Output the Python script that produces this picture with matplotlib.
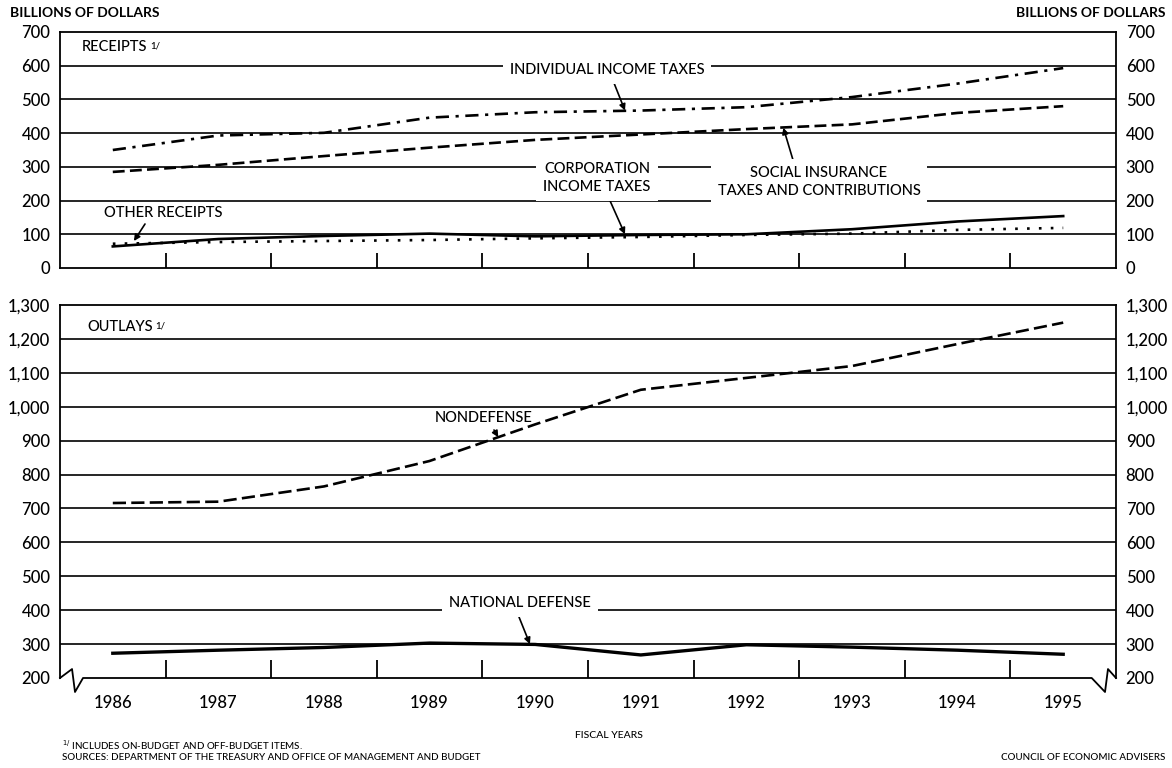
import matplotlib
matplotlib.use("Agg")
import matplotlib.pyplot as plt
from matplotlib.ticker import FuncFormatter

# fiscal years and values (billions of dollars)
years = [1986, 1987, 1988, 1989, 1990, 1991, 1992, 1993, 1994, 1995]
individual_income = [350, 393, 401, 446, 462, 467, 477, 507, 547, 593]
social_insurance = [285, 306, 332, 357, 380, 396, 412, 426, 460, 480]
corporation_income = [64, 86, 95, 102, 94, 98, 100, 115, 138, 154]
other_receipts = [72, 77, 80, 83, 88, 92, 98, 102, 113, 119]
nondefense = [716, 720, 765, 840, 948, 1050, 1085, 1120, 1185, 1248]
national_defense = [273, 282, 290, 303, 299, 268, 298, 291, 282, 270]

receipt_ticks = [0, 100, 200, 300, 400, 500, 600, 700]
outlay_ticks = [200, 300, 400, 500, 600, 700, 800, 900, 1000, 1100, 1200, 1300]

W, H = 1172, 768
plt.rcParams['font.family'] = ['Lato', 'DejaVu Sans']
plt.rcParams['font.weight'] = 'medium'

fig = plt.figure(figsize=(W / 100, H / 100), dpi=100)


def box(l, t, r, b):
    return [l / W, 1 - b / H, (r - l) / W, (b - t) / H]


def style(ax, ticks):
    ax.set_xlim(1985.5, 1995.5)
    ax.set_ylim(ticks[0], ticks[-1])
    ax.set_yticks(ticks)
    ax.yaxis.set_major_formatter(FuncFormatter(lambda v, p: f'{int(v):,}'))
    ax.tick_params(axis='y', length=0, labelsize=12, pad=7,
                   labelleft=True, labelright=True)
    for t in ticks[1:-1]:
        ax.axhline(t, color='black', lw=1.2, zorder=1)
    ax.set_xticks(years)
    ax.set_xticks([y + 0.5 for y in years[:-1]], minor=True)
    ax.tick_params(axis='x', which='minor', direction='in', length=11, width=1.3)
    ax.tick_params(axis='x', which='major', length=0, labelsize=12, pad=12)
    for s in ax.spines.values():
        s.set_linewidth(1.3)


ax1 = fig.add_axes(box(60, 32, 1116, 268))
ax2 = fig.add_axes(box(60, 305, 1116, 678))
style(ax1, receipt_ticks)
style(ax2, outlay_ticks)
ax1.tick_params(axis='x', labelbottom=False)
ax2.tick_params(axis='x', which='minor', length=13)

# receipts
ax1.plot(years, individual_income, color='black', lw=1.9, dashes=(5, 2.5, 1.2, 2.5), zorder=3)
ax1.plot(years, social_insurance, color='black', lw=1.9, dashes=(4.5, 2), zorder=3)
ax1.plot(years, corporation_income, color='black', lw=1.9, zorder=3)
ax1.plot(years, other_receipts, color='black', lw=1.9, dashes=(1, 3.5), zorder=3)

# outlays
ax2.plot(years, nondefense, color='black', lw=1.9, dashes=(5, 2), zorder=3)
ax2.plot(years, national_defense, color='black', lw=2.4, zorder=3)

# broken bottom axis of the outlays panel
ax2.spines['bottom'].set_visible(False)
ax2.plot([0, 0.0114, 0.0142, 0.0218, 0.977, 0.9896, 0.9924, 1.0],
         [0, 0.024, -0.0375, 0, 0, -0.0375, 0.024, 0],
         transform=ax2.transAxes, clip_on=False, color='black', lw=1.3)


def note(text, x, y, boxed=True, ha='center', fontsize=10.5):
    bb = dict(facecolor='white', edgecolor='none', pad=5) if boxed else None
    return fig.text(x / W, 1 - y / H, text, ha=ha, va='center', fontsize=fontsize,
                    linespacing=1.3, bbox=bb)


def pointer(ax, tail, head):
    ax.annotate('', xy=head, xycoords='data', xytext=(tail[0], H - tail[1]),
                textcoords='figure pixels',
                arrowprops=dict(arrowstyle='-|>', color='black', lw=1.2,
                                mutation_scale=9, shrinkA=0, shrinkB=0))


r = note('RECEIPTS', 82, 47, boxed=False, ha='left')
ax1.annotate('1/', xy=(1, 1), xycoords=r, xytext=(2, -1), textcoords='offset points',
             fontsize=7, va='top')
o = note('OUTLAYS', 87, 327, boxed=False, ha='left')
ax2.annotate('1/', xy=(1, 1), xycoords=o, xytext=(2, -1), textcoords='offset points',
             fontsize=7, va='top')

note('INDIVIDUAL INCOME TAXES', 607, 70)
pointer(ax1, (614, 83), (1990.85, 467))
note('CORPORATION\nINCOME TAXES', 597, 178)
pointer(ax1, (607, 194), (1990.85, 100))
note('SOCIAL INSURANCE\nTAXES AND CONTRIBUTIONS', 819, 182)
pointer(ax1, (793, 160), (1992.35, 416))
note('OTHER RECEIPTS', 163, 213, boxed=False)
pointer(ax1, (145, 224), (1986.2, 80))

note('NONDEFENSE', 484, 418, boxed=False)
pointer(ax2, (494, 430), (1989.65, 910))
note('NATIONAL DEFENSE', 520, 603)
pointer(ax2, (519, 617), (1989.95, 300))

fig.text(10 / W, 1 - 13 / H, 'BILLIONS OF DOLLARS', ha='left', va='center',
         fontsize=10, fontweight='bold')
fig.text(1165 / W, 1 - 13 / H, 'BILLIONS OF DOLLARS', ha='right', va='center',
         fontsize=10, fontweight='bold')
fig.text(609 / W, 1 - 736 / H, 'FISCAL YEARS', ha='center', va='center', fontsize=7.5)
fig.text(62 / W, 1 - 745 / H, '$^{1/}$ INCLUDES ON-BUDGET AND OFF-BUDGET ITEMS.',
         ha='left', va='center', fontsize=7)
fig.text(62 / W, 1 - 757 / H,
         'SOURCES: DEPARTMENT OF THE TREASURY AND OFFICE OF MANAGEMENT AND BUDGET',
         ha='left', va='center', fontsize=7)
fig.text(1165 / W, 1 - 757 / H, 'COUNCIL OF ECONOMIC ADVISERS', ha='right',
         va='center', fontsize=7)

fig.savefig('out.png', dpi=100)
